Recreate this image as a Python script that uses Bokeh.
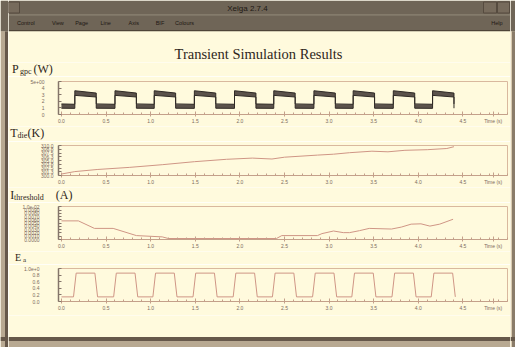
from bokeh.plotting import figure
from bokeh.layouts import column, row
from bokeh.models import Range1d, FixedTicker, PrintfTickFormatter
from bokeh.core.properties import value
from bokeh.embed import file_html
from bokeh.resources import INLINE

# ---------------- data ----------------
time_ticks = [0.0, 0.5, 1.0, 1.5, 2.0, 2.5, 3.0, 3.5, 4.0, 4.5]
time_label_pos = 4.84
time_label = "Time (s)"

pulse_on = [0.15, 0.60, 1.04, 1.49, 1.94, 2.38, 2.83, 3.27, 3.72, 4.16]
pulse_off = [0.39, 0.84, 1.28, 1.73, 2.18, 2.62, 3.07, 3.51, 3.96, 4.40]

power_high_upper = [3.60, 3.25]   # at switch-on, at switch-off
power_high_lower = [2.90, 2.65]
power_low_upper = [1.60, 1.55]
power_low_lower = [0.95, 0.93]
power_ticks = [0, 1, 2, 3, 4, 5]
power_overrides = {5: "5e+00"}

temp_time = [0.00, 0.15, 0.40, 0.76, 1.13, 1.49, 1.85, 2.14, 2.36, 2.50, 2.87,
             3.05, 3.23, 3.48, 3.66, 3.85, 4.10, 4.32, 4.40]
temp_K = [300.5, 301.3, 302.0, 302.7, 303.6, 304.6, 305.4, 305.8, 305.5, 306.1,
          306.8, 307.1, 307.6, 308.1, 307.9, 308.4, 308.6, 309.0, 309.6]
temp_ticks = [300.0, 301.25, 302.5, 303.75, 305.0, 306.25, 307.5, 308.75, 310.0]

curr_time = [0.00, 0.19, 0.37, 0.58, 0.84, 1.13, 1.20, 2.41, 2.47, 2.87, 2.92,
             3.05, 3.16, 3.23, 3.34, 3.45, 3.70, 3.81, 3.92, 4.03, 4.13, 4.24, 4.39]
curr_A = [0.0057, 0.0057, 0.0034, 0.0034, 0.0012, 0.0008, 0.0003, 0.0003, 0.0012,
          0.0012, 0.0018, 0.0026, 0.0021, 0.0021, 0.0027, 0.0034, 0.0032, 0.0038,
          0.0047, 0.0048, 0.0041, 0.0047, 0.0062]
curr_ticks = [0.0, 0.001, 0.002, 0.003, 0.004, 0.005, 0.006, 0.007, 0.008, 0.009, 0.01]
curr_overrides = {0.01: "1.0e-02"}

volt_high = 0.86
volt_low = 0.14
volt_ramp = 0.03
volt_ticks = [0, 0.2, 0.4, 0.6, 0.8, 1]
volt_overrides = {1: "1.0e+0"}

# ---------------- styling ----------------
CREAM = "#fffadd"
CHROME = "#6f6557"
DARK_EDGE = "#66584a"
LIGHT_EDGE = "#b8a992"
FRAME = "#d9b89e"
AXIS_DARK = "#84756a"
TICK = "#c4a08a"
LABEL = "#7d6a5c"
TRACE = "#cf9585"
INK = "#2e2620"
SERIF = "Liberation Serif"
SANS = "Liberation Sans"
W_CENTER = 502


def deco(w, h):
    f = figure(width=w, height=h, x_range=Range1d(0, w), y_range=Range1d(h, 0),
               toolbar_location=None, output_backend="svg", min_border=0,
               x_axis_type=None, y_axis_type=None, outline_line_color=None,
               background_fill_color=CREAM, border_fill_color=CREAM,
               frame_align=False)
    return f


def txt(f, x, y, s, size, font=SERIF, color=INK, align="left"):
    f.text(x=[x], y=[y], text=[s], text_font=value(font), text_font_size=value(size),
           text_color=color, text_align=align, text_baseline="middle")


# ---- header: title bar, menu bar, main title ----
header = deco(W_CENTER, 62)
header.quad(left=[0], right=[W_CENTER], top=[0], bottom=[14.3], fill_color=CHROME, line_color=None)
header.quad(left=[0], right=[W_CENTER], top=[14.3], bottom=[15.3], fill_color="#5a5044", line_color=None)
header.quad(left=[0], right=[W_CENTER], top=[15.3], bottom=[29.6], fill_color=CHROME, line_color=None)
header.quad(left=[0], right=[W_CENTER], top=[29.6], bottom=[30.8], fill_color="#4e4438", line_color=None)
header.quad(left=[0, 475, 489], right=[11, 488, 501], top=[1.5, 1.5, 1.5], bottom=[12.5, 12.5, 12.5],
            fill_color="#776b5c", line_color="#564b3f")
txt(header, 239, 7.6, "Xelga 2.7.4", "8px", font=SANS, color="#1e1813", align="center")
for mx, mt in zip([8.5, 43.4, 66.7, 91.9, 120.0, 147.2, 166.6, 482.8],
                  ["Control", "View", "Page", "Line", "Axis", "BIF", "Colours", "Help"]):
    txt(header, mx, 22.2, mt, "5.5px", font=SANS, color="#1e1813")
txt(header, 250, 53.5, "Transient Simulation Results", "14.5px", color=INK, align="center")


# ---- label strips ----
def strip(h, parts, yc):
    f = deco(W_CENTER, h)
    for x, s, size, dy in parts:
        txt(f, x, yc + dy, s, size)
    return f


s1 = strip(14, [(3.6, "P", "12px", 0), (11.5, "gpc", "8px", 2.5), (25.0, "(W)", "12px", 0)], 6.8)
s2 = strip(15, [(1.7, "T", "12px", 0), (9.0, "die", "8px", 2.5), (19.0, "(K)", "12px", 0)], 6.3)
s3 = strip(15, [(1.7, "I", "12px", 0), (5.5, "threshold", "8px", 2.5), (47.3, "(A)", "12px", 0)], 7.1)
s4 = strip(13, [(6.6, "E", "10px", 0), (14.5, "a", "7px", 2.0)], 6.4)


# ---- plots ----
def make_plot(h, top, bottom, y0, y1, yticks, yfmt, yover, standoff):
    p = figure(width=W_CENTER, height=h, x_range=Range1d(-0.033, 5.0), y_range=Range1d(y0, y1),
               toolbar_location=None, output_backend="svg",
               min_border_left=50, min_border_right=3, min_border_top=top, min_border_bottom=bottom,
               background_fill_color=CREAM, border_fill_color=CREAM, outline_line_color=FRAME)
    p.grid.visible = False
    xa = p.xaxis[0]
    xa.ticker = FixedTicker(ticks=time_ticks + [time_label_pos],
                            minor_ticks=[round(0.1 * k, 2) for k in range(51)])
    xa.formatter = PrintfTickFormatter(format="%.1f")
    xa.major_label_overrides = {time_label_pos: time_label}
    xa.axis_line_color = TICK
    xa.major_tick_line_color = TICK
    xa.minor_tick_line_color = TICK
    xa.major_tick_in = 3
    xa.major_tick_out = 2
    xa.minor_tick_in = 2
    xa.minor_tick_out = 0
    xa.major_label_standoff = 1
    xa.major_label_text_font = SANS
    xa.major_label_text_font_size = "5px"
    xa.major_label_text_color = LABEL
    ya = p.yaxis[0]
    ya.ticker = FixedTicker(ticks=yticks, minor_ticks=[])
    ya.formatter = PrintfTickFormatter(format=yfmt)
    ya.major_label_overrides = yover
    ya.axis_line_color = AXIS_DARK
    ya.axis_line_width = 1.5
    ya.major_tick_line_color = AXIS_DARK
    ya.major_tick_in = 3
    ya.major_tick_out = 0
    ya.major_label_standoff = standoff
    ya.major_label_text_font = SANS
    ya.major_label_text_font_size = "5px"
    ya.major_label_text_color = LABEL
    return p


# power: dense oscillation drawn as a dark band
px, pu, pl = [0.0], [power_low_upper[0]], [power_low_lower[0]]
for on, off in zip(pulse_on, pulse_off):
    px += [on, on, off, off]
    pu += [power_low_upper[1], power_high_upper[0], power_high_upper[1], power_low_upper[0]]
    pl += [power_low_lower[1], power_high_lower[0], power_high_lower[1], power_low_lower[0]]

p1 = make_plot(50, 5, 9, 0, 5, power_ticks, "%d", power_overrides, 14)
p1.varea(x=px, y1=pl, y2=pu, fill_color="#5b524b")
p1.line(px, pu, line_color="#2f2925", line_width=1)
p1.line(px, pl, line_color="#2f2925", line_width=1)

p2 = make_plot(46, 4, 10, 300, 310, temp_ticks, "%.1f", {}, 5)
p2.line(temp_time, temp_K, line_color=TRACE, line_width=1)

p3 = make_plot(49, 4, 10, 0, 0.0101, curr_ticks, "%.4f", curr_overrides, 19)
p3.line(curr_time, curr_A, line_color=TRACE, line_width=1)

vx, vy = [0.0], [volt_low]
for on, off in zip(pulse_on, pulse_off):
    vx += [on - volt_ramp / 2, on + volt_ramp / 2, off - volt_ramp / 2, off + volt_ramp / 2]
    vy += [volt_low, volt_high, volt_high, volt_low]

p4 = make_plot(51, 4, 14, 0, 1, volt_ticks, "%.1f", volt_overrides, 19)
p4.line(vx, vy, line_color=TRACE, line_width=1)

# ---- footer and window edges ----
footer = deco(W_CENTER, 32)
footer.quad(left=[0], right=[W_CENTER], top=[21.5], bottom=[25.5], fill_color=DARK_EDGE, line_color=None)
footer.quad(left=[0], right=[W_CENTER], top=[25.5], bottom=[32], fill_color=LIGHT_EDGE, line_color=None)

left = deco(8, 347)
left.quad(left=[0, 4.5], right=[4.5, 8], top=[30.8, 30.8], bottom=[347, 347],
          fill_color=[LIGHT_EDGE, DARK_EDGE], line_color=None)
left.quad(left=[0], right=[8], top=[0], bottom=[30.8], fill_color=CHROME, line_color=None)
left.quad(left=[0], right=[8], top=[336.5], bottom=[340.5], fill_color=DARK_EDGE, line_color=None)

right = deco(5, 347)
right.quad(left=[0, 1.5], right=[1.5, 5], top=[30.8, 30.8], bottom=[347, 347],
           fill_color=["#d9cbb0", "#8a7c6a"], line_color=None)
right.quad(left=[0], right=[5], top=[0], bottom=[30.8], fill_color=CHROME, line_color=None)
right.quad(left=[0], right=[5], top=[336.5], bottom=[340.5], fill_color=DARK_EDGE, line_color=None)

center = column(header, s1, p1, s2, p2, s3, p3, s4, p4, footer, spacing=0)
layout = row(left, center, right, spacing=0)

open("out.html", "w").write(file_html(layout, INLINE))
